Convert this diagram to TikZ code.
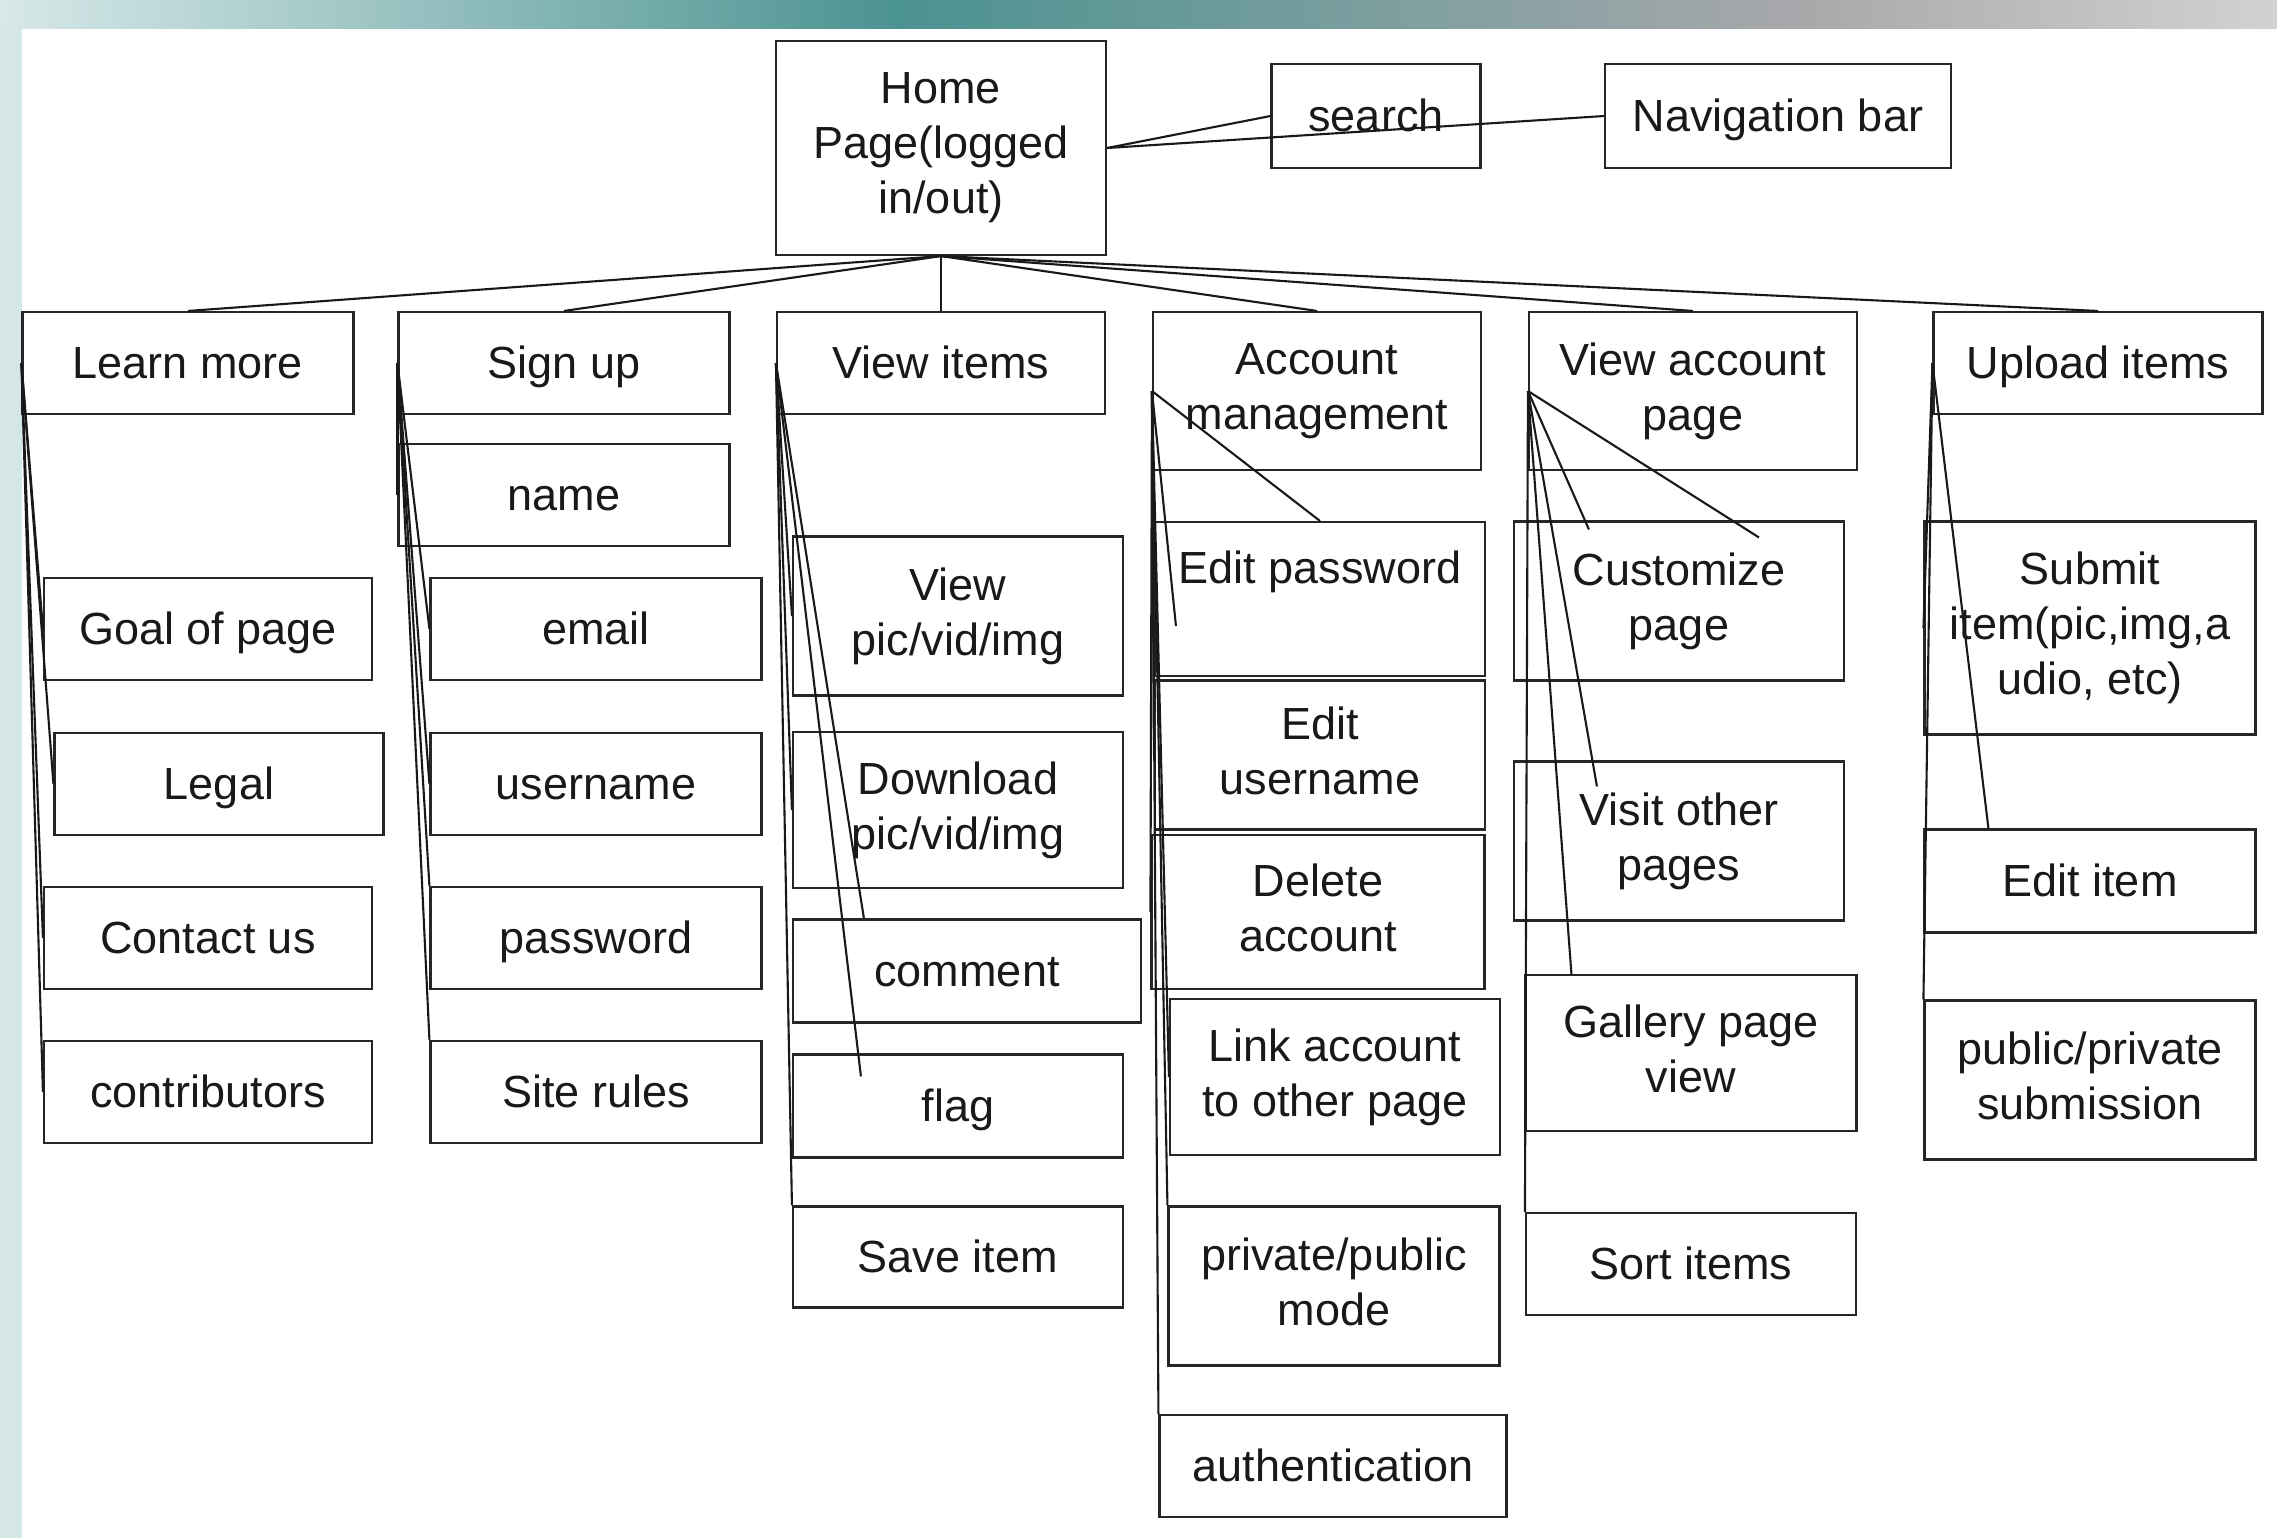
\documentclass[tikz,border=0pt]{standalone}
\usepackage{fontspec}
\setmainfont{Liberation Sans}
\usetikzlibrary{calc}
\definecolor{barlight}{HTML}{D7E8E8}
\definecolor{barteal}{HTML}{4B9391}
\definecolor{bargray}{HTML}{A8A8AB}
\definecolor{barpale}{HTML}{D2D2D5}
\definecolor{sidestrip}{HTML}{D5E6E6}
\begin{document}
\begin{tikzpicture}[x=0.01cm, y=-0.01cm,
	pagebox/.style 2 args={draw=black!85, line width=0.6pt, minimum width=#1*0.01cm, minimum height=#2*0.01cm, inner sep=0pt, align=center, text=black!90, font=\fontsize{12.8}{15.65}\selectfont,
		execute at begin node=\rule{0pt}{11.6pt}, execute at end node=\rule[-2.7pt]{0pt}{0pt}},
	connector/.style={draw=black!90, line width=0.6pt}]
	\useasboundingbox (0,0) rectangle (2277,1538);
	\fill[sidestrip] (0,28) rectangle (22,1538);
	\shade[left color=barlight, right color=barteal] (0,0) rectangle (901,28);
	\shade[left color=barteal, right color=bargray] (900,0) rectangle (1801,28);
	\shade[left color=bargray, right color=barpale] (1800,0) rectangle (2277,28);
	% top
	\node[pagebox={330}{214}] (home) at (941,148) {
		Home\\
		Page(logged\\
		in/out)
	};
	\node[pagebox={209}{104}] (search) at (1376,116) {search};
	\node[pagebox={346}{104}] (nav) at (1778,116) {Navigation bar};
	% first row
	\node[pagebox={331}{102}] (learn) at (188,363) {Learn more};
	\node[pagebox={331}{102}] (signup) at (564,363) {Sign up};
	\node[pagebox={328}{102}] (viewitems) at (941,363) {View items};
	\node[pagebox={328}{158}] (acct) at (1317,391) {
		Account\\
		management
	};
	\node[pagebox={328}{158}] (viewacct) at (1693,391) {
		View account\\
		page
	};
	\node[pagebox={329}{102}] (upload) at (2098,363) {Upload items};
	% learn more
	\node[pagebox={328}{102}] (goal) at (208,629) {Goal of page};
	\node[pagebox={329}{102}] (legal) at (219,784) {Legal};
	\node[pagebox={328}{102}] (contact) at (208,938) {Contact us};
	\node[pagebox={328}{102}] (contrib) at (208,1092) {contributors};
	% sign up
	\node[pagebox={331}{102}] (name) at (564,495) {name};
	\node[pagebox={331}{102}] (email) at (596,629) {email};
	\node[pagebox={331}{102}] (username) at (596,784) {username};
	\node[pagebox={331}{102}] (password) at (596,938) {password};
	\node[pagebox={331}{102}] (siterules) at (596,1092) {Site rules};
	% view items
	\node[pagebox={330}{159}] (viewpic) at (958,616) {
		View\\
		pic/vid/img
	};
	\node[pagebox={330}{156}] (download) at (958,810) {
		Download\\
		pic/vid/img
	};
	\node[pagebox={348}{103}] (comment) at (967,971) {comment};
	\node[pagebox={330}{103}] (flag) at (958,1106) {flag};
	\node[pagebox={330}{101}] (saveitem) at (958,1257) {Save item};
	% account management
	\node[pagebox={330}{154}] (editpw) at (1320,599) {
		Edit password\\
		\mbox{}
	};
	\node[pagebox={330}{149}] (edituser) at (1320,755) {
		Edit\\
		username
	};
	\node[pagebox={333}{154}] (delete) at (1318,912) {
		Delete\\
		account
	};
	\node[pagebox={330}{156}] (linkacct) at (1335,1077) {
		Link account\\
		to other page
	};
	\node[pagebox={331}{159}] (privmode) at (1334,1286) {
		private/public\\
		mode
	};
	\node[pagebox={347}{102}] (auth) at (1333,1466) {authentication};
	% view account page
	\node[pagebox={330}{159}] (customize) at (1679,601) {
		Customize\\
		page
	};
	\node[pagebox={330}{159}] (visit) at (1679,841) {
		Visit other\\
		pages
	};
	\node[pagebox={331}{156}] (gallery) at (1691,1053) {
		Gallery page\\
		view
	};
	\node[pagebox={330}{102}] (sortitems) at (1691,1264) {Sort items};
	% upload items
	\node[pagebox={331}{213}] (submit) at (2090,628) {
		Submit\\
		item(pic,img,a\\
		udio, etc)
	};
	\node[pagebox={331}{103}] (edititem) at (2090,881) {Edit item};
	\node[pagebox={331}{159}] (pubsub) at (2090,1080) {
		public/private\\
		submission
	};
	% loose ends
	\coordinate (commentend) at ($(comment.north west)+(72,0)$);
	\coordinate (flagend) at ($(flag.north west)+(69,23)$);
	\coordinate (editpwend) at ($(editpw.north west)+(22,105)$);
	\coordinate (customizeend) at ($(customize.north west)+(246,17)$);
	\coordinate (customizetip) at ($(customize.north west)+(76,9)$);
	\coordinate (visitend) at ($(visit.north west)+(84,26)$);
	\coordinate (galleryend) at ($(gallery.north west)+(47,0)$);
	\coordinate (edititemend) at ($(edititem.north west)+(65,0)$);
	% connectors
	\foreach \col in {learn,signup,viewitems,acct,viewacct,upload}
		\draw[connector] (home.south) -- (\col.north);
	\draw[connector] (home.east) -- (search.west);
	\draw[connector] (home.east) -- (nav.west);
	\foreach \item in {goal,legal,contact,contrib}
		\draw[connector] (learn.west) -- (\item.west);
	\foreach \item in {name,email,username}
		\draw[connector] (signup.west) -- (\item.west);
	\draw[connector] (signup.west) -- (password.north west);
	\draw[connector] (signup.west) -- (siterules.north west);
	\draw[connector] (viewitems.west) -- (viewpic.west);
	\draw[connector] (viewitems.west) -- (download.west);
	\draw[connector] (viewitems.west) -- (commentend);
	\draw[connector] (viewitems.west) -- (flagend);
	\draw[connector] (viewitems.west) -- (saveitem.north west);
	\draw[connector] (acct.west) -- (editpw.north);
	\draw[connector] (acct.west) -- (editpwend);
	\draw[connector] (acct.west) -- (edituser.west);
	\draw[connector] (acct.west) -- (delete.west);
	\draw[connector] (acct.west) -- (linkacct.west);
	\draw[connector] (acct.west) -- (privmode.north west);
	\draw[connector] (acct.west) -- (auth.north west);
	\draw[connector] (viewacct.west) -- (customizeend);
	\draw[connector] (viewacct.west) -- (customizetip);
	\draw[connector] (viewacct.west) -- (visitend);
	\draw[connector] (viewacct.west) -- (galleryend);
	\draw[connector] (viewacct.west) -- (sortitems.north west);
	\draw[connector] (upload.west) -- (submit.west);
	\draw[connector] (upload.west) -- (edititemend);
	\draw[connector] (upload.west) -- (pubsub.north west);
\end{tikzpicture}
\end{document}
